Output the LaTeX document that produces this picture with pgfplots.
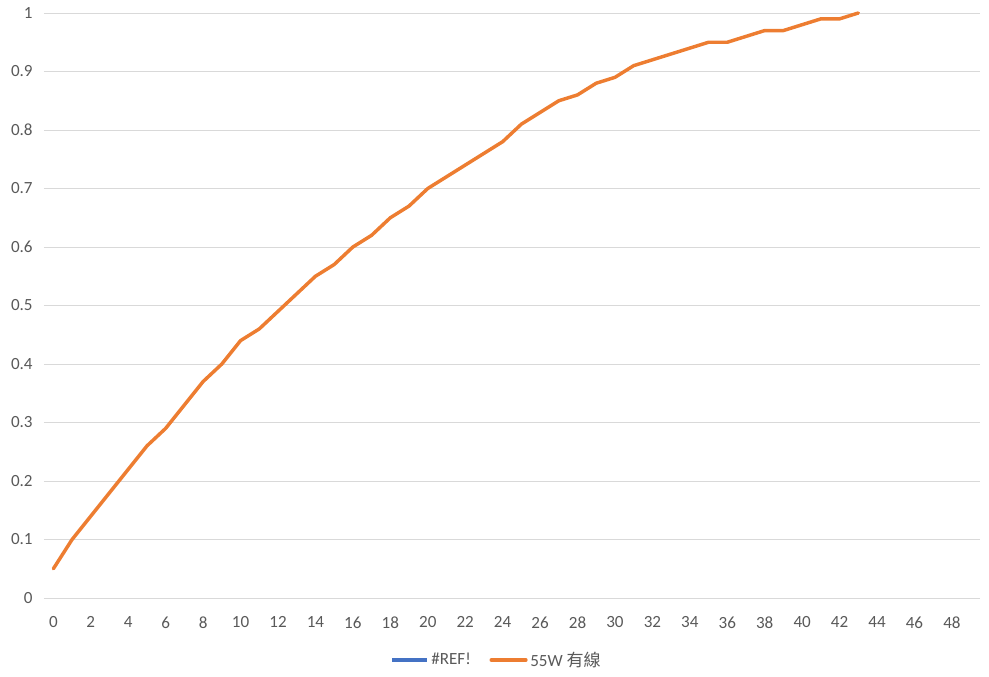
\documentclass[border=0pt]{standalone}
\usepackage{pgfplots}
\pgfplotsset{compat=1.18}
\usepackage{fontspec}
\setmainfont{Carlito}
\newfontfamily\cjk{Noto Sans CJK TC}

\definecolor{xlblue}{HTML}{4472C4}
\definecolor{xlorange}{HTML}{ED7D31}
\definecolor{xlgrid}{HTML}{D9D9D9}
\definecolor{xltext}{HTML}{595959}

\pgfplotstableread{
x y
0 0.05
1 0.10
2 0.14
3 0.18
4 0.22
5 0.26
6 0.29
7 0.33
8 0.37
9 0.40
10 0.44
11 0.46
12 0.49
13 0.52
14 0.55
15 0.57
16 0.60
17 0.62
18 0.65
19 0.67
20 0.70
21 0.72
22 0.74
23 0.76
24 0.78
25 0.81
26 0.83
27 0.85
28 0.86
29 0.88
30 0.89
31 0.91
32 0.92
33 0.93
34 0.94
35 0.95
36 0.95
37 0.96
38 0.97
39 0.97
40 0.98
41 0.99
42 0.99
43 1.00
}\wired

\begin{document}
\begin{tikzpicture}
\path[use as bounding box] (-33pt,-58.5pt) rectangle (708.75pt,448.5pt);
\begin{axis}[
    at={(0,0)}, anchor=south west,
    scale only axis,
    width=702pt, height=438.75pt,
    xmin=-0.5, xmax=49.5,
    ymin=0, ymax=1,
    xtick={0,2,...,48},
    ytick={0,0.1,...,1},
    axis line style={draw=none},
    major tick length=0pt,
    ymajorgrids=true,
    grid style={xlgrid, line width=0.75pt},
    /pgf/number format/assume math mode=true,
    tick label style={font=\fontsize{12.8}{15}\selectfont, text=xltext},
    yticklabel style={anchor=east, xshift=-5pt},
    xticklabel style={yshift=-10.5pt},
    legend style={
        at={(0.484,-0.106)}, anchor=center,
        draw=none, fill=none,
        legend columns=-1,
        font=\fontsize{12.8}{15}\selectfont,
        text=xltext,
        /tikz/every even column/.append style={column sep=12pt},
    },
    legend image code/.code={\draw[#1, line width=2.6pt] (0pt,0pt) -- (26pt,0pt);},
    clip=false,
]
\addlegendimage{xlblue}
\addlegendentry{\#REF!}
\addplot[xlorange, line width=2.6pt, line join=round, line cap=round] table[x=x, y=y] {\wired};
\addlegendentry{55W {\cjk 有線}}
\end{axis}
\end{tikzpicture}
\end{document}
